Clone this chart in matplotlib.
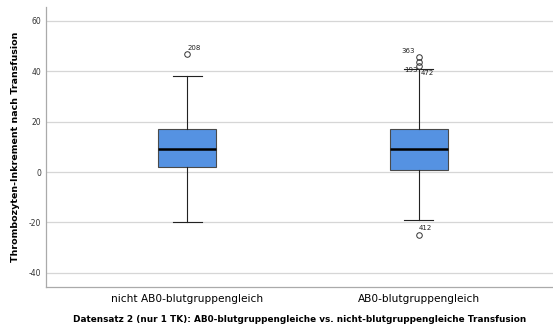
import matplotlib
matplotlib.use("Agg")
import matplotlib.pyplot as plt

categories = ["nicht AB0-blutgruppengleich", "AB0-blutgruppengleich"]
whislo = [-20, -19]
q1 = [2, 1]
med = [9, 9]
q3 = [17, 17]
whishi = [38, 41]
fliers = [[47], [45.5, 43.5, 42, -25]]
flier_labels = [["208"], ["363", "", "193", "412"]]
yticks = [-40, -20, 0, 20, 40, 60]

fig = plt.figure(figsize=(5.53, 3.27), dpi=100)
ax = fig.add_axes([0.0832, 0.1223, 0.9168, 0.8563])

stats = []
for i, c in enumerate(categories):
    stats.append(dict(label=c, whislo=whislo[i], q1=q1[i], med=med[i],
                      q3=q3[i], whishi=whishi[i], fliers=fliers[i]))

ax.bxp(stats, positions=[1, 2], widths=0.25, patch_artist=True,
       boxprops=dict(facecolor="#5592e2", edgecolor="#4a4a4a", linewidth=0.8),
       medianprops=dict(color="black", linewidth=1.8),
       whiskerprops=dict(color="#222222", linewidth=0.8),
       capprops=dict(color="#222222", linewidth=0.8),
       capwidths=0.125,
       flierprops=dict(marker="o", markersize=4, markerfacecolor="none",
                       markeredgecolor="#333333", markeredgewidth=0.7))

# outlier labels
for i in range(2):
    for v, lab in zip(fliers[i], flier_labels[i]):
        if not lab:
            continue
        x = i + 1
        if lab == "193":
            ax.text(x - 0.005, 40.5, lab, fontsize=5, ha="right", va="center", color="#222222")
            ax.text(x + 0.01, 39.5, "472", fontsize=5, ha="left", va="center", color="#222222")
        elif lab == "363":
            ax.text(x - 0.015, v + 1.2, lab, fontsize=5, ha="right", va="bottom", color="#222222")
        elif lab == "412":
            ax.text(x + 0.0, v + 3.0, lab, fontsize=5, ha="left", va="center", color="#222222")
        else:
            ax.text(x + 0.0, v + 1.2, lab, fontsize=5, ha="left", va="bottom", color="#222222")

ax.set_xlim(0.391, 2.58)
ax.set_ylim(-45.6, 65.5)
ax.set_yticks(yticks)
ax.set_yticklabels([str(t) for t in yticks], fontsize=5.5, color="#333333")
ax.tick_params(axis="both", length=0)
ax.tick_params(axis="x", labelsize=7.6, pad=5)
ax.yaxis.grid(True, color="#d6d6d6", linewidth=0.9)
ax.set_axisbelow(True)
for s in ["top", "right"]:
    ax.spines[s].set_visible(False)
for s in ["left", "bottom"]:
    ax.spines[s].set_color("#aaaaaa")
    ax.spines[s].set_linewidth(0.9)

ax.set_ylabel("Thrombozyten-Inkrement nach Transfusion", fontsize=6.8, fontweight="bold", labelpad=6)
ax.set_xlabel("Datensatz 2 (nur 1 TK): AB0-blutgruppengleiche vs. nicht-blutgruppengleiche Transfusion",
              fontsize=6.4, fontweight="bold", labelpad=8)

fig.savefig("out.png", dpi=100)
